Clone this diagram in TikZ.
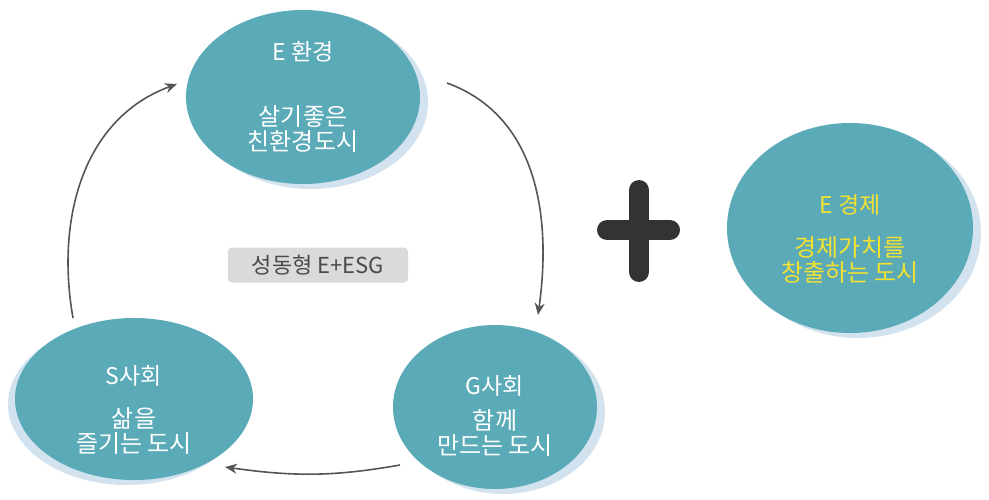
\documentclass[tikz,border=0pt]{standalone}
\usepackage{fontspec}
\setmainfont{Noto Sans CJK KR}
\usetikzlibrary{arrows.meta, shapes.geometric, shadows}
\definecolor{c1}{HTML}{5AAAB8}
\definecolor{c2}{HTML}{D3E2EF}
\definecolor{c3}{HTML}{F3E230}
\definecolor{c4}{HTML}{DADADA}
\definecolor{c5}{HTML}{555555}
\definecolor{c6}{HTML}{333333}
\definecolor{labelcolor}{HTML}{4A4A4A}
\newcommand{\ttl}[1]{{\fontsize{11.5}{12.5}\selectfont #1}}

\begin{document}
\begin{tikzpicture}[
    x=0.5pt, y=0.5pt,
    every node/.style={font=\fontsize{12}{12.5}\selectfont},
    arr/.style={-{Stealth[length=6pt, width=5pt]}, line width=0.8pt, color=c5},
    blob/.style={ellipse, fill=c1, inner sep=0pt},
    shr/.style={drop shadow={shadow xshift=4pt, shadow yshift=-2.5pt, fill=c2, opacity=1}},
    shl/.style={drop shadow={shadow xshift=-3.5pt, shadow yshift=-2.5pt, fill=c2, opacity=1}},
    txt/.style={text=white, align=center},
    tagbox/.style={rectangle, rounded corners=2pt, fill=c4, text=labelcolor,
        minimum width=90pt, minimum height=17.5pt, font=\fontsize{11}{12}\selectfont},
    plus/.style={line width=10pt, line cap=round, color=c6},
]
\useasboundingbox (0,0) rectangle (989,499);

% ================================================================ the three circles of the cycle
\node[blob, shr, minimum width=117pt, minimum height=87pt] (env) at (303,402) {};
\node[txt] (envt) at (env.center) {\ttl{E 환경}\\[20pt]살기좋은\\친환경도시};

\node[blob, shl, minimum width=119pt, minimum height=81pt] (soc) at (134,100) {};
\node[txt] (soct) at ([yshift=-5.5pt]soc.center) {\ttl{S사회}\\[9pt]삶을\\즐기는 도시};

\node[blob, shr, minimum width=102pt, minimum height=82pt] (gov) at (495,92) {};
\node[txt] (govt) at ([yshift=-4.5pt]gov.center) {\ttl{G사회}\\[5pt]함께\\만드는 도시};

\node[tagbox] (esg) at (318,234) {성동형 E+ESG};

% ================================================================ arrows round the cycle
\coordinate (r1) at (447,416);
\coordinate (r2) at (538,184);
\coordinate (b1) at (400,34);
\coordinate (b2) at (225,32);
\coordinate (l1) at (73,181);
\coordinate (l2) at (177,415);
\draw[arr] (r1) to[out=-20, in=82] (r2);
\draw[arr] (b1) to[out=190, in=-8] (b2);
\draw[arr] (l1) to[out=100, in=200] (l2);

% ================================================================ plus and the economy circle
\draw[plus] (639,227) -- (639,309);
\draw[plus] (607,269) -- (670,269);

\node[blob, shr, minimum width=123pt, minimum height=105pt] (eco) at (850,271) {};
\node[txt, text=c3] (ecot) at ([yshift=-5.5pt]eco.center) {\ttl{E 경제}\\[9pt]경제가치를\\창출하는 도시};

\end{tikzpicture}
\end{document}
